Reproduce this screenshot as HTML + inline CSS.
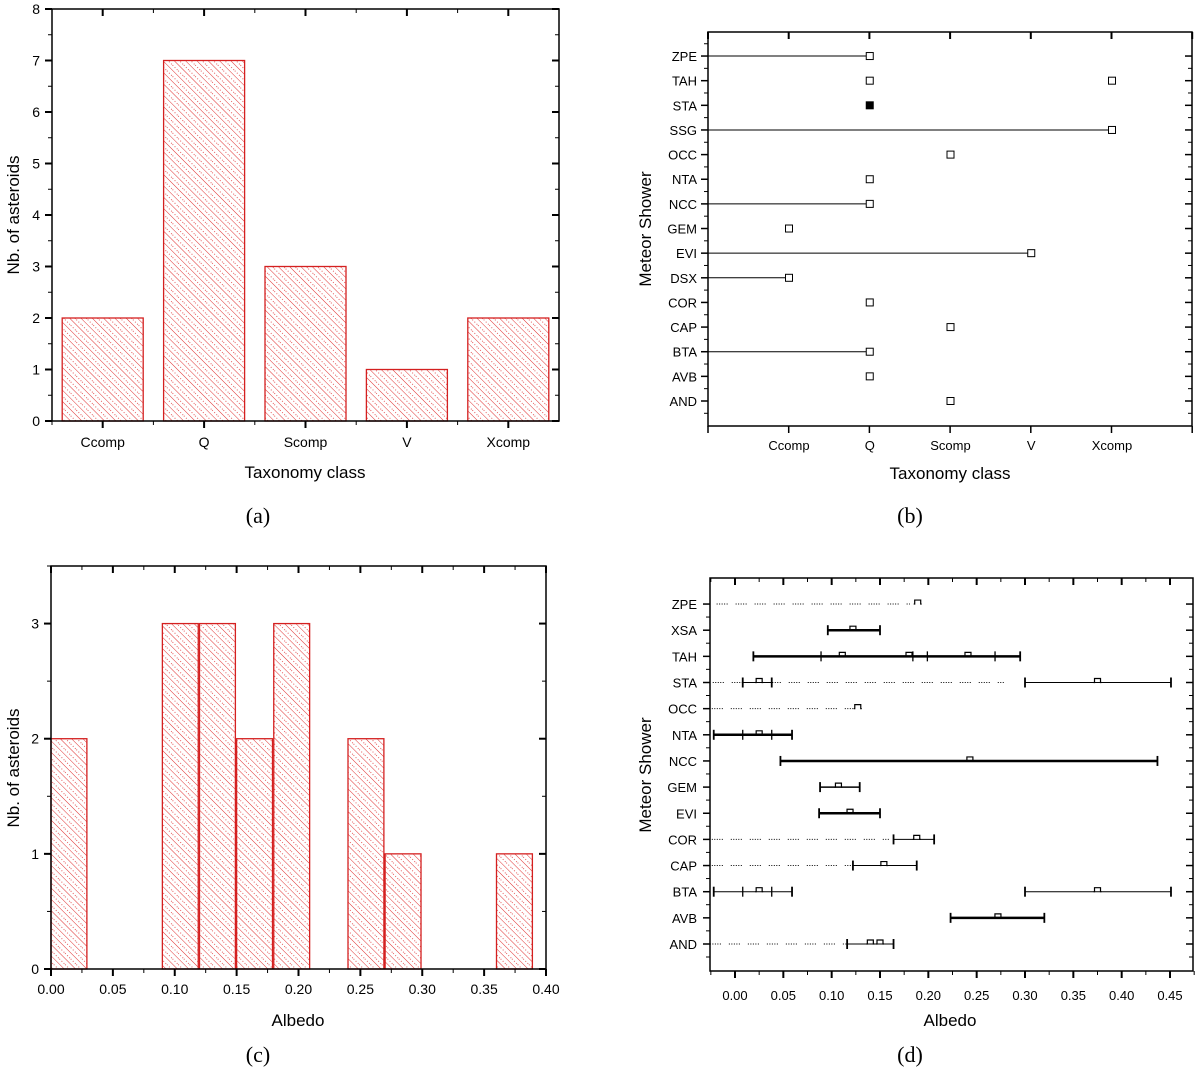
<!DOCTYPE html>
<html><head><meta charset="utf-8"><style>
html,body{margin:0;padding:0;background:#fff;}
svg{display:block;font-family:"Liberation Sans",sans-serif;}
.cap{font-family:"Liberation Serif",serif;font-size:22px;}
</style></head><body>
<svg id="fig" width="1200" height="1070" viewBox="0 0 1200 1070" xmlns="http://www.w3.org/2000/svg">
<defs>
<pattern id="hatch" width="8" height="8" patternUnits="userSpaceOnUse" patternTransform="rotate(-45)">
<rect width="8" height="8" fill="#fff"/>
<line x1="0" y1="0" x2="0" y2="8" stroke="#e03030" stroke-width="1"/>
<line x1="4" y1="0" x2="4" y2="8" stroke="#e03030" stroke-width="0.8" stroke-dasharray="1,2"/>
</pattern>
</defs>
<g id="pa"></g>
<g id="pb"></g>
<g id="pc"></g>
<g id="pd"></g>
<text class="cap" x="258" y="523" text-anchor="middle">(a)</text>
<text class="cap" x="910" y="523" text-anchor="middle">(b)</text>
<text class="cap" x="258" y="1062" text-anchor="middle">(c)</text>
<text class="cap" x="910" y="1062" text-anchor="middle">(d)</text>
</svg>
<script>
// ---- data ----
const taxCategories = ["Ccomp","Q","Scomp","V","Xcomp"];
const taxCounts = [2,7,3,1,2];
const countTicks = [0,1,2,3,4,5,6,7,8];
const showersB = ["AND","AVB","BTA","CAP","COR","DSX","EVI","GEM","NCC","NTA","OCC","SSG","STA","TAH","ZPE"];
const showerClassB = [[2],[1],[1],[2],[1],[0],[3],[0],[1],[1],[2],[4],[1],[1,4],[1]];
const showerLineB = [null,null,1,null,null,0,3,null,1,null,null,4,null,null,1];
const showerFilledB = [false,false,false,false,false,false,false,false,false,false,false,false,true,false,false];
const albedoBinStart = [0.00,0.09,0.12,0.15,0.18,0.24,0.27,0.36];
const albedoCounts = [2,3,3,2,3,2,1,1];
const albedoTicks = ["0.00","0.05","0.10","0.15","0.20","0.25","0.30","0.35","0.40"];
const albedoCountTicks = [0,1,2,3];
const showersD = ["AND","AVB","BTA","CAP","COR","EVI","GEM","NCC","NTA","OCC","STA","TAH","XSA","ZPE"];
const dotsD = [[-0.026,0.116],null,null,[-0.024,0.122],[-0.024,0.16],null,null,null,null,[-0.024,0.123],[-0.023,0.278],null,null,[-0.019,0.181]];
const segsD = [[[0.116,0.164,1]],[[0.223,0.320,2.5]],[[-0.022,0.059,1],[0.30,0.451,1]],[[0.122,0.188,1]],[[0.164,0.206,1]],[[0.087,0.150,2.5]],[[0.088,0.129,1.5]],[[0.047,0.437,2.5]],[[-0.022,0.059,2.5]],[],[[0.008,0.038,1],[0.30,0.451,1]],[[0.019,0.295,2.5]],[[0.096,0.150,2.5]],[]];
const marksD = [[0.14,0.15],[0.272],[0.025,0.375],[0.154],[0.188],[0.119],[0.107],[0.243],[0.025],[0.127],[0.025,0.375],[0.111,0.180,0.241],[0.122],[0.189]];
const ticksD = [[],[],[0.008,0.038],[],[],[],[],[],[0.008,0.038],[],[],[0.089,0.184,0.199,0.269],[],[]];
const albedoTicksD = ["0.00","0.05","0.10","0.15","0.20","0.25","0.30","0.35","0.40","0.45"];

const NS="http://www.w3.org/2000/svg";
function mk(parent,tag,attrs,text){const e=document.createElementNS(NS,tag);for(const k in attrs)e.setAttribute(k,attrs[k]);if(text!==undefined)e.textContent=text;parent.appendChild(e);return e;}
function ln(g,x1,y1,x2,y2,w){return mk(g,'line',{x1,y1,x2,y2,stroke:'#000','stroke-width':w||1});}

// ---- Panel A ----
(function(){
const g=document.getElementById('pa');
const L=52,R=559,T=9,B=421;
const y=v=>B-(v/8)*(B-T);
const x=i=>L+(i+0.5)*(R-L)/5;
const bw=81;
taxCounts.forEach((c,i)=>{
 const r=mk(g,'rect',{x:x(i)-bw/2,y:y(c),width:bw,height:B-y(c),fill:'url(#hatch)',stroke:'#d42020','stroke-width':1.3});
 
 
});
const fr=mk(g,'rect',{x:L,y:T,width:R-L,height:B-T,fill:'none',stroke:'#000','stroke-width':1.5});

countTicks.forEach(v=>{ln(g,L-7,y(v),L,y(v),2);ln(g,R-7,y(v),R,y(v),2);
 const t=mk(g,'text',{x:L-12,y:y(v)+5,'text-anchor':'end','font-size':14},String(v));
 
 if(v<8){ln(g,L-4,y(v+0.5),L,y(v+0.5),1);ln(g,R-4,y(v+0.5),R,y(v+0.5),1);}});
taxCategories.forEach((c,i)=>{ln(g,x(i),B,x(i),B+7,2);ln(g,x(i),T,x(i),T+7,2);
 ln(g,L+i*(R-L)/5,B,L+i*(R-L)/5,B+4,1);ln(g,L+i*(R-L)/5,T,L+i*(R-L)/5,T+4,1);
 const t=mk(g,'text',{x:x(i),y:447,'text-anchor':'middle','font-size':14},c);
 });
const xt=mk(g,'text',{x:305,y:478,'text-anchor':'middle','font-size':17},'Taxonomy class');

const yt=mk(g,'text',{x:0,y:0,'text-anchor':'middle','font-size':17,transform:'translate(19,215) rotate(-90)'},'Nb. of asteroids');

})();

// ---- Panel B ----
(function(){
const g=document.getElementById('pb');
const L=708,R=1192,T=32,B=426;
const x=i=>789+i*80.75;
const y=i=>401-i*24.64;
const fr=mk(g,'rect',{x:L,y:T,width:R-L,height:B-T,fill:'none',stroke:'#000','stroke-width':1.5});

for(let i=-1;i<=5;i++){ln(g,L+(i+1)*80.7,B,L+(i+1)*80.7,B+7,1.5);ln(g,L+(i+1)*80.7,T,L+(i+1)*80.7,T+7,2);}
taxCategories.forEach((c,i)=>{const t=mk(g,'text',{x:x(i),y:450,'text-anchor':'middle','font-size':13},c);
 });
showersB.forEach((s,i)=>{
 ln(g,L-7,y(i),L,y(i),1.5);ln(g,R-7,y(i),R,y(i),1.5);
 ln(g,L-4,y(i)+12.3,L,y(i)+12.3,1);ln(g,R-4,y(i)+12.3,R,y(i)+12.3,1);
 const t=mk(g,'text',{x:697,y:y(i)+5,'text-anchor':'end','font-size':13},s);
 
 if(showerLineB[i]!==null){const l=ln(g,L,y(i),x(showerLineB[i]),y(i),1);
  }
 showerClassB[i].forEach(c=>{const r=mk(g,'rect',{x:x(c)-3.5,y:y(i)-3.5,width:7,height:7,fill:showerFilledB[i]?'#000':'#fff',stroke:'#000','stroke-width':1});
  });
});
ln(g,L-4,y(14)-12.3,L,y(14)-12.3,1);
const xt=mk(g,'text',{x:950,y:479,'text-anchor':'middle','font-size':17},'Taxonomy class');

const yt=mk(g,'text',{x:0,y:0,'text-anchor':'middle','font-size':17,transform:'translate(651,229) rotate(-90)'},'Meteor Shower');

})();

// ---- Panel C ----
(function(){
const g=document.getElementById('pc');
const L=51,R=546,T=566,B=969;
const x=v=>L+v/0.40*(R-L);
const y=v=>B-v/3.5*(B-T);
albedoCounts.forEach((c,i)=>{
 const x0=x(albedoBinStart[i]),x1=x(albedoBinStart[i]+0.029);
 const r=mk(g,'rect',{x:x0,y:y(c),width:x1-x0,height:B-y(c),fill:'url(#hatch)',stroke:'#d42020','stroke-width':1.3});
 
 
});
const fr=mk(g,'rect',{x:L,y:T,width:R-L,height:B-T,fill:'none',stroke:'#000','stroke-width':1.5});

albedoCountTicks.forEach(v=>{ln(g,L-7,y(v),L,y(v),2);ln(g,R-7,y(v),R,y(v),2);
 const t=mk(g,'text',{x:L-12,y:y(v)+5,'text-anchor':'end','font-size':14},String(v));
 
 ln(g,L-4,y(v+0.5),L,y(v+0.5),1);ln(g,R-4,y(v+0.5),R,y(v+0.5),1);});
albedoTicks.forEach(s=>{const v=parseFloat(s);ln(g,x(v),B,x(v),B+7,2);ln(g,x(v),T,x(v),T+7,2);
 if(v<0.4){ln(g,x(v+0.025),B,x(v+0.025),B+4,1);ln(g,x(v+0.025),T,x(v+0.025),T+4,1);}
 const t=mk(g,'text',{x:x(v),y:994,'text-anchor':'middle','font-size':14},s);
 });
const xt=mk(g,'text',{x:298,y:1026,'text-anchor':'middle','font-size':17},'Albedo');

const yt=mk(g,'text',{x:0,y:0,'text-anchor':'middle','font-size':17,transform:'translate(19,768) rotate(-90)'},'Nb. of asteroids');

})();

// ---- Panel D ----
(function(){
const g=document.getElementById('pd');
const L=710,R=1193,T=578,B=971;
const x=v=>735+v*966.7;
const y=i=>944-i*26.15;
const fr=mk(g,'rect',{x:L,y:T,width:R-L,height:B-T,fill:'none',stroke:'#000','stroke-width':1.5});

albedoTicksD.forEach(s=>{const v=parseFloat(s);ln(g,x(v),B,x(v),B+7,2);ln(g,x(v),T,x(v),T+7,2);
 ln(g,x(v-0.025),B,x(v-0.025),B+4,1);ln(g,x(v-0.025),T,x(v-0.025),T+4,1);
 const t=mk(g,'text',{x:x(v),y:1000,'text-anchor':'middle','font-size':13},s);
 });
ln(g,x(0.475),B,x(0.475),B+4,1);
showersD.forEach((s,i)=>{
 const yy=y(i);
 ln(g,L-7,yy,L,yy,1.5);ln(g,R-7,yy,R,yy,1.5);
 ln(g,L-4,yy+13,L,yy+13,1);ln(g,R-4,yy+13,R,yy+13,1);
 const t=mk(g,'text',{x:697,y:yy+5,'text-anchor':'end','font-size':13},s);
 
 if(dotsD[i]){const d=mk(g,'line',{x1:x(dotsD[i][0]),y1:yy,x2:x(dotsD[i][1]),y2:yy,stroke:'#000','stroke-width':1,'stroke-dasharray':'1,1.5,1,1.5,1,1.5,1,1.5,1,8'});
  }
 segsD[i].forEach(sg=>{const l=ln(g,x(sg[0]),yy,x(sg[1]),yy,sg[2]);
  
  ln(g,x(sg[0]),yy-5,x(sg[0]),yy+5,1.8);ln(g,x(sg[1]),yy-5,x(sg[1]),yy+5,1.8);});
 ticksD[i].forEach(v=>ln(g,x(v),yy-5,x(v),yy+5,1.3));
 marksD[i].forEach(v=>{const p=mk(g,'path',{d:`M${x(v)-4},${yy} L${x(v)-3},${yy} L${x(v)-3},${yy-4} L${x(v)+3},${yy-4} L${x(v)+3},${yy} L${x(v)+4},${yy}`,fill:'none',stroke:'#000','stroke-width':1.2});
  });
});
const xt=mk(g,'text',{x:950,y:1026,'text-anchor':'middle','font-size':17},'Albedo');

const yt=mk(g,'text',{x:0,y:0,'text-anchor':'middle','font-size':17,transform:'translate(651,775) rotate(-90)'},'Meteor Shower');

})();
</script>
</body></html>
